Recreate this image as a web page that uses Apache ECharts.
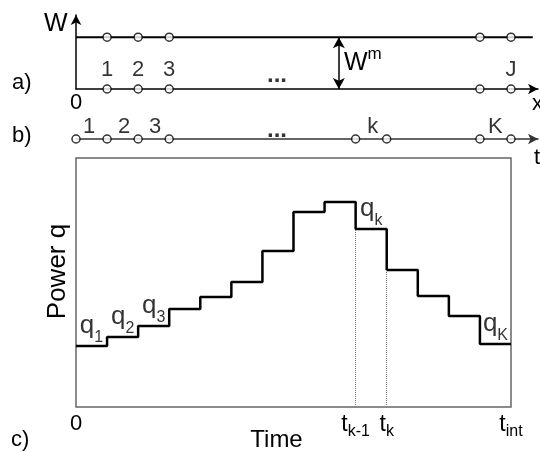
<!DOCTYPE html>
<html>
<head>
<meta charset="utf-8">
<script src="https://cdn.jsdelivr.net/npm/echarts@6/dist/echarts.min.js"></script>
<style>
  html, body { margin: 0; padding: 0; background: #fff; }
  #chart { width: 540px; height: 452px; }
</style>
</head>
<body>
<div id="chart"></div>
<script>
// a) spatial nodes on the x line
const gridNodes = [1, 2, 3, 13, 14];
const gridNodeLabels = ['1', '2', '3', '', 'J'];
const wLevel = 7.0;
const wLineEnd = 14.7;
const wArrowX = 8.46;
const dotsX = 6.47;
// b) time nodes and interval numbers
const timeNodes = [0, 1, 2, 3, 9, 10, 13, 14];
const intervalX = [0.42, 1.55, 2.55, 9.55, 13.5];
const intervalLabels = ['1', '2', '3', 'k', 'K'];
// c) power per time interval
const powerLevels = [24.5, 28.1, 32.5, 39.4, 44.2, 50.2, 62.7, 78.3, 82.3, 71.5, 55.0, 44.6, 36.5, 25.3];
const qLabelSteps = [0, 1, 2, 9, 13];
const qLabelSubs = ['1', '2', '3', 'k', 'K'];
const timeTickPos = [0, 9, 10, 14];
const timeTickText = ['{n|0}', '{t|t}{ts|k-1}', '{t|t}{ts|k}', '{t|t}{ts|int}'];
const dottedAt = [9, 10];

const xEnd = 14.87;
const FONT = '"Liberation Sans", Arial, sans-serif';
const INK = '#000';

const txt = (size, extra) => Object.assign({ fontSize: size, fontFamily: FONT, color: INK }, extra || {});
const rich = {
  n: txt(22),
  t: txt(23),
  ts: txt(16, { padding: [14, 0, 0, 0], lineHeight: 14 }),
  q: txt(26),
  qs: txt(16, { padding: [24, 0, 0, 0], lineHeight: 14 })
};

const stepData = powerLevels.map((q, i) => [i, q]);
stepData.push([powerLevels.length, powerLevels[powerLevels.length - 1]]);

const nodeStyle = { color: '#fff', borderColor: INK, borderWidth: 1.5 };

const chart = echarts.init(document.getElementById('chart'));

const gText = (x, y, text, size) => ({
  type: 'text', x: x, y: y, z: 10,
  style: { text: text, fontSize: size, fontFamily: FONT, fill: INK, verticalAlign: 'middle' }
});

chart.setOption({
  animation: false,
  grid: [
    { left: 76, right: 2, top: 15, height: 74, outerBoundsMode: 'none', containLabel: false },
    { left: 76, right: 2, top: 120, height: 19, outerBoundsMode: 'none', containLabel: false },
    { left: 76, width: 435, top: 158, height: 249, outerBoundsMode: 'none', containLabel: false,
      show: true, borderColor: '#666', borderWidth: 1.5 }
  ],
  xAxis: [
    { gridIndex: 0, type: 'value', min: 0, max: xEnd, interval: 1,
      splitLine: { show: false }, axisTick: { show: false },
      axisLine: { show: true, onZero: false, symbol: ['none', 'arrow'], symbolSize: [8, 10],
        lineStyle: { color: INK, width: 1.5 } },
      axisLabel: { formatter: v => (v === 0 ? '0' : ''), margin: 3, fontSize: 22, fontFamily: FONT, color: INK,
        showMinLabel: true, showMaxLabel: false } },
    { gridIndex: 1, type: 'value', min: 0, max: xEnd, interval: 1,
      splitLine: { show: false }, axisTick: { show: false }, axisLabel: { show: false },
      axisLine: { show: true, onZero: false, symbol: ['none', 'arrow'], symbolSize: [8, 10],
        lineStyle: { color: '#333', width: 1.5 } } },
    { gridIndex: 2, type: 'value', min: 0, max: 14, interval: 1,
      splitLine: { show: false }, axisTick: { show: false }, axisLine: { show: false },
      axisLabel: {
        formatter: v => { const i = timeTickPos.indexOf(v); return i < 0 ? '' : timeTickText[i]; },
        margin: 6, rich: rich, showMinLabel: true, showMaxLabel: true
      },
      name: 'Time', nameLocation: 'middle', nameGap: 21, nameMoveOverlap: false,
      nameTextStyle: { fontSize: 24, fontFamily: FONT, color: INK, padding: [0, 34, 0, 0] } }
  ],
  yAxis: [
    { gridIndex: 0, type: 'value', min: 0, max: 10,
      splitLine: { show: false }, axisTick: { show: false }, axisLabel: { show: false },
      axisLine: { show: true, symbol: ['none', 'arrow'], symbolSize: [8, 10],
        lineStyle: { color: INK, width: 1.5 } } },
    { gridIndex: 1, type: 'value', min: 0, max: 1, show: false },
    { gridIndex: 2, type: 'value', min: 0, max: 100,
      splitLine: { show: false }, axisTick: { show: false }, axisLabel: { show: false }, axisLine: { show: false },
      name: 'Power q', nameLocation: 'middle', nameGap: 5, nameMoveOverlap: false,
      nameTextStyle: { fontSize: 26, fontFamily: FONT, color: INK, padding: [0, 0, 0, 22] } }
  ],
  series: [
    // a) upper line + W^m arrow
    { type: 'line', xAxisIndex: 0, yAxisIndex: 0, symbol: 'none', silent: true,
      data: [[0, wLevel], [wLineEnd, wLevel]],
      lineStyle: { color: INK, width: 2 },
      markLine: { silent: true, symbol: ['arrow', 'arrow'], symbolSize: [9, 11],
        label: { show: false }, lineStyle: { color: INK, width: 1.5, type: 'solid' },
        data: [[{ coord: [wArrowX, 0] }, { coord: [wArrowX, wLevel] }]] } },
    { type: 'scatter', xAxisIndex: 0, yAxisIndex: 0, symbol: 'circle', symbolSize: 8, z: 5,
      data: gridNodes.map(x => [x, wLevel]), itemStyle: nodeStyle },
    { type: 'scatter', xAxisIndex: 0, yAxisIndex: 0, symbol: 'circle', symbolSize: 8, z: 5,
      data: gridNodes.map(x => [x, 0]), itemStyle: nodeStyle,
      label: { show: true, position: 'top', distance: 3, formatter: p => gridNodeLabels[p.dataIndex],
        fontSize: 22, fontFamily: FONT, color: INK } },
    { type: 'scatter', xAxisIndex: 0, yAxisIndex: 0, symbolSize: 0, data: [[dotsX, 1.9]],
      label: { show: true, position: 'inside', formatter: '...', fontSize: 24, fontWeight: 'bold',
        fontFamily: FONT, color: INK } },
    // b) time line
    { type: 'scatter', xAxisIndex: 1, yAxisIndex: 1, symbol: 'circle', symbolSize: 8, z: 5,
      data: timeNodes.map(x => [x, 0]), itemStyle: nodeStyle },
    { type: 'scatter', xAxisIndex: 1, yAxisIndex: 1, symbolSize: 0,
      data: intervalX.map(x => [x, 0]),
      label: { show: true, position: 'top', distance: 1, formatter: p => intervalLabels[p.dataIndex],
        fontSize: 22, fontFamily: FONT, color: INK } },
    { type: 'scatter', xAxisIndex: 1, yAxisIndex: 1, symbolSize: 0, data: [[dotsX, 0.45]],
      label: { show: true, position: 'inside', formatter: '...', fontSize: 24, fontWeight: 'bold',
        fontFamily: FONT, color: INK } },
    // c) power steps
    { type: 'line', xAxisIndex: 2, yAxisIndex: 2, step: 'end', symbol: 'none', silent: true,
      data: stepData, lineStyle: { color: INK, width: 2.5 },
      markLine: { silent: true, symbol: ['none', 'none'], label: { show: false },
        lineStyle: { color: '#777', width: 1, type: 'dotted' },
        data: dottedAt.map(i => [{ coord: [i, 0] }, { coord: [i, Math.min(powerLevels[i - 1], powerLevels[i])] }]) } },
    { type: 'scatter', xAxisIndex: 2, yAxisIndex: 2, symbolSize: 0,
      data: qLabelSteps.map(s => [s + 0.5, powerLevels[s]]),
      label: { show: true, position: 'top', distance: 7, rich: rich,
        formatter: p => '{q|q}{qs|' + qLabelSubs[p.dataIndex] + '}' } }
  ],
  graphic: [
    gText(12, 83, 'a)', 22),
    gText(12, 136, 'b)', 22),
    gText(11, 440, 'c)', 22),
    gText(44, 24, 'W', 25),
    gText(532, 104, 'x', 22),
    gText(534, 158, 't', 22),
    { type: 'text', x: 344, y: 63, z: 10,
      style: { text: '{W|W}{m|m}', verticalAlign: 'middle',
        rich: {
          W: { fontSize: 25, fontFamily: FONT, fill: INK },
          m: { fontSize: 17, fontFamily: FONT, fill: INK, padding: [0, 0, 18, 0], lineHeight: 14 }
        } } }
  ]
});
</script>
</body>
</html>
